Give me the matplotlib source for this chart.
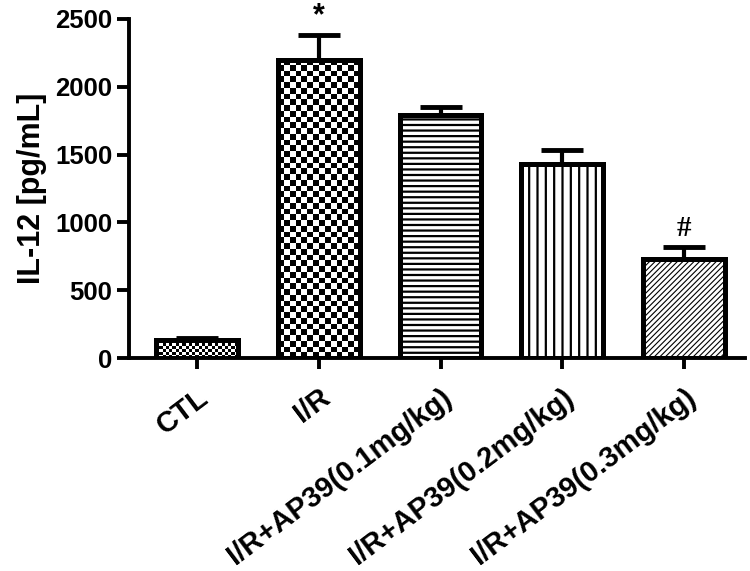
import numpy as np
import matplotlib
matplotlib.use("Agg")
import matplotlib.pyplot as plt

categories = ["CTL", "I/R", "I/R+AP39(0.1mg/kg)", "I/R+AP39(0.2mg/kg)", "I/R+AP39(0.3mg/kg)"]
means = [130, 2200, 1790, 1430, 730]
errors = [20, 180, 60, 100, 90]
annotations = ["", "*", "", "", "#"]
yticks = [0, 500, 1000, 1500, 2000, 2500]

plt.rcParams['font.family'] = ['Liberation Sans', 'DejaVu Sans']
plt.rcParams['font.weight'] = 'bold'

fig = plt.figure(figsize=(7.5, 5.71), dpi=100)
ax = fig.add_axes([0.172, 0.373, 0.821, 0.594])

x = np.arange(len(categories))
ax.set_xlim(-0.56, 4.5)
ax.set_ylim(0, 2500)

# error bars (upper only), drawn behind bars
ax.errorbar(x, means, yerr=[np.zeros(len(means)), errors], fmt='none',
            ecolor='black', elinewidth=3, capsize=15, capthick=3.5, zorder=1)

hatches = [None, None, '---', '||', '//////']
hatch_lw = [1, 1, 1.6, 1.6, 0.8]
faces = ['none', 'none', 'white', 'white', 'white']
bars = ax.bar(x, means, width=0.67, color=faces, edgecolor='black',
              linewidth=3.6, zorder=3)
for b, h, lw in zip(bars, hatches, hatch_lw):
    if h:
        b.set_hatch(h)
        if hasattr(b, 'set_hatch_linewidth'):
            b.set_hatch_linewidth(lw)

# checkerboard textures for the first two bars
fig.canvas.draw()
sq_px = [3.2, 5.7]
for i, sq in enumerate(sq_px):
    b = bars[i]
    x0, y0 = b.get_x(), 0
    x1, y1 = b.get_x() + b.get_width(), b.get_height()
    p0 = ax.transData.transform((x0, y0))
    p1 = ax.transData.transform((x1, y1))
    nx = max(1, int(round(abs(p1[0] - p0[0]) / sq)))
    ny = max(1, int(round(abs(p1[1] - p0[1]) / sq)))
    ii, jj = np.indices((ny, nx))
    checker = ((ii + jj) % 2).astype(float)
    ax.imshow(checker, cmap='gray', extent=(x0, x1, y0, y1), origin='lower',
              interpolation='nearest', aspect='auto', zorder=2.5, vmin=0, vmax=1)
ax.set_xlim(-0.56, 4.5)
ax.set_ylim(0, 2500)

for xi, m, e, a in zip(x, means, errors, annotations):
    if a == '*':
        ax.text(xi, m + e + 30, a, ha='center', va='bottom', fontsize=22,
                fontweight='bold', family=['Liberation Sans'])
    elif a:
        ax.text(xi, m + e + 35, a, ha='center', va='bottom', fontsize=21,
                fontweight='bold', family=['Liberation Serif'])

ax.spines['top'].set_visible(False)
ax.spines['right'].set_visible(False)
ax.spines['left'].set_linewidth(2.8)
ax.spines['bottom'].set_linewidth(2.8)
ax.spines['left'].set_bounds(0, 2500)

ax.set_yticks(yticks)
ax.set_yticklabels([str(t) for t in yticks], fontsize=18.5, fontweight='bold')
ax.set_xticks(x)
ax.set_xticklabels(categories, fontsize=21, fontweight='bold', rotation=37,
                   ha='right', rotation_mode='anchor')
ax.tick_params(axis='y', direction='out', length=9, width=2.8, pad=3)
ax.tick_params(axis='x', direction='out', length=8, width=2.8, pad=10)
ax.set_ylabel("IL-12 [pg/mL]", fontsize=22, fontweight='bold', labelpad=6)

fig.savefig("out.png", dpi=100)
